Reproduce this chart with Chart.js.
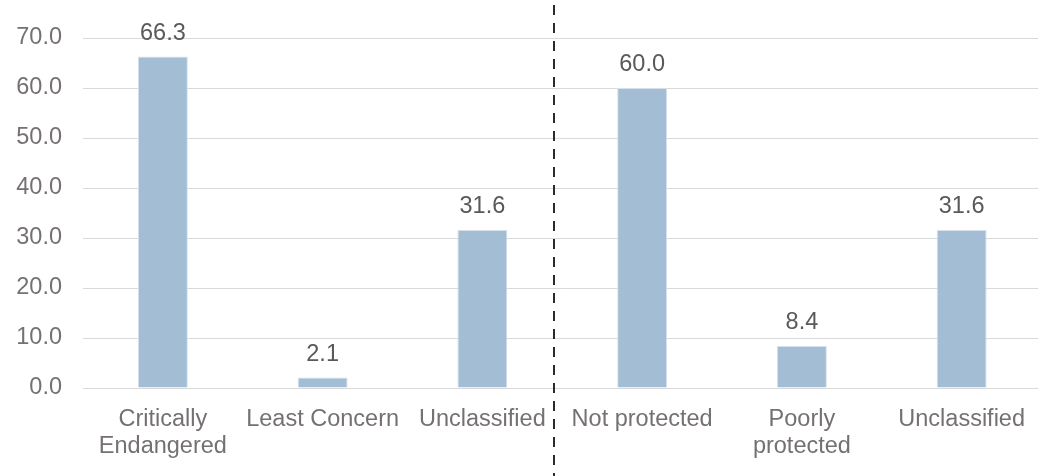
<!DOCTYPE html>
<html lang="en">
<head>
  <meta charset="UTF-8" />
  <title>Threat and protection status</title>
  <script src="https://cdn.jsdelivr.net/npm/chart.js"></script>
  <style>
    body { margin: 0; background: #fff; overflow: hidden; }
    #wrap { position: absolute; left: 0; top: 0; width: 1043px; height: 476px; }
  </style>
</head>
<body>
<div id="wrap"><canvas id="chart"></canvas></div>
<script>
  const categories = [
    ["Critically", "Endangered"],
    "Least Concern",
    "Unclassified",
    "Not protected",
    ["Poorly", "protected"],
    "Unclassified"
  ];
  const values = [66.3, 2.1, 31.6, 60.0, 8.4, 31.6];
  const yTicks = [0, 10, 20, 30, 40, 50, 60, 70];

  // the dashed separator sits just left of the gap between the two groups
  const DIVIDER_AT = 2.45;

  const FONT = { family: "'Liberation Sans', Arial, sans-serif", size: 23.5, lineHeight: 1.16 };

  const valueLabels = {
    id: "valueLabels",
    afterDatasetsDraw(chart) {
      const ctx = chart.ctx;
      const meta = chart.getDatasetMeta(0);
      ctx.save();
      ctx.font = `${FONT.size}px ${FONT.family}`;
      ctx.fillStyle = "#595959";
      ctx.textAlign = "center";
      ctx.textBaseline = "alphabetic";
      meta.data.forEach((bar, i) => {
        ctx.fillText(values[i].toFixed(1), bar.x, bar.y - 17);
      });
      ctx.restore();
    }
  };

  const divider = {
    id: "divider",
    afterDraw(chart) {
      const ctx = chart.ctx;
      const x = Math.round(chart.scales.x.getPixelForValue(DIVIDER_AT));
      ctx.save();
      ctx.strokeStyle = "#2b2b2b";
      ctx.lineWidth = 2;
      ctx.setLineDash([10, 8]);
      ctx.lineDashOffset = 13;
      ctx.beginPath();
      ctx.moveTo(x, 0);
      ctx.lineTo(x, chart.height);
      ctx.stroke();
      ctx.restore();
    }
  };

  new Chart(document.getElementById("chart"), {
    type: "bar",
    data: {
      labels: categories,
      datasets: [{
        data: values,
        backgroundColor: "#A3BDD5",
        borderColor: "#d5e0eb",
        borderWidth: 1,
        categoryPercentage: 1,
        barPercentage: 0.3125
      }]
    },
    options: {
      responsive: true,
      maintainAspectRatio: false,
      animation: false,
      layout: { padding: { top: 38, right: 0, left: 0, bottom: 0 } },
      plugins: { legend: { display: false }, tooltip: { enabled: false } },
      scales: {
        x: {
          grid: { display: false, drawTicks: false },
          border: { display: true, color: "#d9d9d9", width: 1 },
          ticks: { color: "#767171", font: FONT, padding: 18, maxRotation: 0, autoSkip: false },
          afterFit: s => { s.height = 88; }
        },
        y: {
          min: 0,
          max: 70,
          afterBuildTicks: s => { s.ticks = yTicks.map(v => ({ value: v })); },
          grid: { color: "#d9d9d9", lineWidth: 1, drawTicks: false },
          border: { display: false },
          ticks: { color: "#767171", font: FONT, padding: 21, callback: v => v.toFixed(1) },
          afterFit: s => { s.width = 83; }
        }
      }
    },
    plugins: [valueLabels, divider]
  });
</script>
</body>
</html>
